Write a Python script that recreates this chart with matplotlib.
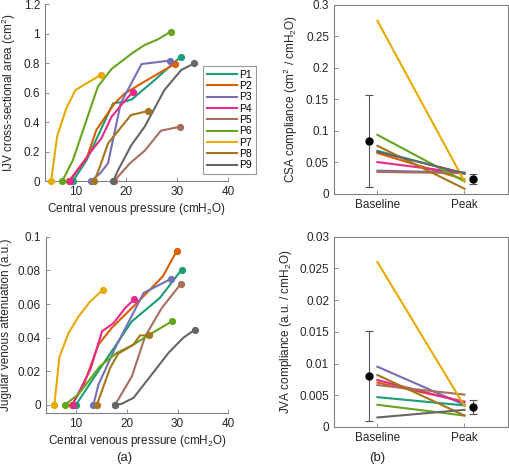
import matplotlib
matplotlib.use("Agg")
import matplotlib.pyplot as plt
import numpy as np

plt.rcParams["font.family"] = ["Liberation Sans", "DejaVu Sans"]
plt.rcParams["mathtext.default"] = "regular"
plt.rcParams["font.size"] = 8.5

names = ["P1", "P2", "P3", "P4", "P5", "P6", "P7", "P8", "P9"]
colors = ["#1b9e77", "#d95f02", "#7570b3", "#e7298a", "#a86e5c",
          "#66a61e", "#e6ab02", "#a6761d", "#666666"]

# (a) top: IJV cross-sectional area vs CVP
csa_x = [
    [9.5, 12.2, 17.4, 19.7, 21.1, 25.6, 30.7],
    [8.7, 12.2, 14.1, 17.7, 19.7, 23.0, 26.9, 29.5],
    [13.0, 14.8, 16.4, 18.9, 23.0, 28.5],
    [8.9, 12.5, 15.1, 17.1, 19.0, 21.3],
    [17.6, 20.7, 23.6, 26.8, 30.5],
    [7.4, 9.5, 14.4, 17.1, 21.3, 23.6, 26.2, 28.7],
    [5.2, 6.4, 8.2, 10.0, 15.0],
    [13.7, 14.8, 16.4, 20.9, 24.3],
    [17.4, 18.4, 21.0, 23.6, 27.5, 30.8, 33.4],
]
csa_y = [
    [0, 0.142, 0.527, 0.538, 0.554, 0.685, 0.843],
    [0, 0.155, 0.346, 0.527, 0.594, 0.662, 0.741, 0.793],
    [0, 0.05, 0.12, 0.527, 0.793, 0.816],
    [0, 0.176, 0.29, 0.436, 0.515, 0.605],
    [0, 0.12, 0.205, 0.341, 0.368],
    [0, 0.142, 0.64, 0.76, 0.87, 0.922, 0.96, 1.012],
    [0, 0.305, 0.493, 0.617, 0.72],
    [0, 0.097, 0.255, 0.447, 0.475],
    [0, 0.075, 0.244, 0.368, 0.617, 0.753, 0.798],
]

# (a) bottom: jugular venous attenuation vs CVP
jva_x = [
    [10.0, 13.7, 21.0, 26.5, 30.8],
    [9.15, 11.4, 14.4, 17.0, 22.3, 27.1, 29.8],
    [13.4, 14.4, 17.7, 23.3, 28.7],
    [9.3, 12.8, 15.1, 17.4, 19.7, 21.5],
    [17.7, 21.0, 23.6, 26.9, 30.7],
    [7.8, 10.4, 14.7, 18.0, 21.3, 24.6, 28.9],
    [5.7, 6.1, 6.7, 8.5, 10.5, 12.8, 15.3],
    [14.1, 16.7, 18.3, 21.3, 22.6, 24.4],
    [17.7, 18.9, 21.3, 23.6, 28.2, 31.1, 33.4],
]
jva_y = [
    [0, 0.017, 0.0497, 0.0636, 0.0805],
    [0, 0.011, 0.0358, 0.0457, 0.0616, 0.0765, 0.0915],
    [0, 0.0119, 0.0338, 0.0666, 0.075],
    [0, 0.0209, 0.0437, 0.0487, 0.0577, 0.063],
    [0, 0.0169, 0.0407, 0.0577, 0.0722],
    [0, 0.006, 0.0229, 0.0308, 0.0358, 0.042, 0.0497],
    [0, 0.011, 0.0284, 0.0427, 0.0527, 0.0616, 0.0686],
    [0, 0.0219, 0.0304, 0.0358, 0.0413, 0.0413],
    [0, 0.0004, 0.004, 0.0129, 0.0308, 0.0398, 0.0447],
]

# (b) compliance, baseline -> peak
csa_base = [0.0685, 0.065, 0.037, 0.0506, 0.035, 0.0938, 0.2747, 0.0764, 0.067]
csa_peak = [0.032, 0.023, 0.034, 0.033, 0.033, 0.020, 0.020, 0.0084, 0.033]
csa_mean = [0.0843, 0.024]
csa_err = [0.0735, 0.0085]

jva_base = [0.0047, 0.0070, 0.0095, 0.0074, 0.0066, 0.0035, 0.0260, 0.0082, 0.0015]
jva_peak = [0.0034, 0.0040, 0.0035, 0.0039, 0.0051, 0.0018, 0.0033, 0.0018, 0.0027]
jva_mean = [0.0081, 0.0032]
jva_err = [0.0071, 0.0011]

cond_labels = ["Baseline", "Peak"]

grey = "#262626"
spine_c = "#808080"

fig = plt.figure(figsize=(5.09, 4.67), dpi=100)
ax1 = fig.add_axes([0.0884, 0.6124, 0.3595, 0.379])
ax2 = fig.add_axes([0.0898, 0.1156, 0.3587, 0.377])
ax3 = fig.add_axes([0.656, 0.5846, 0.342, 0.405])
ax4 = fig.add_axes([0.656, 0.0857, 0.342, 0.4075])


def style(ax, box):
    for s in ax.spines.values():
        s.set_color(spine_c)
        s.set_linewidth(0.8)
    if not box:
        ax.spines["top"].set_visible(False)
        ax.spines["right"].set_visible(False)
    ax.tick_params(direction="in", colors=grey, labelcolor=grey, length=3,
                   width=0.6, labelsize=8.5)
    ax.tick_params(axis="both", which="both", color=spine_c)


for ax, xs, ys in [(ax1, csa_x, csa_y), (ax2, jva_x, jva_y)]:
    for i in range(len(names)):
        ax.plot(xs[i], ys[i], color=colors[i], lw=1.5, label=names[i])
        ax.plot([xs[i][0], xs[i][-1]], [ys[i][0], ys[i][-1]], "o",
                color=colors[i], ms=4.2, clip_on=False, zorder=5)
    ax.set_xlim(4, 40)
    ax.set_xticks([10, 20, 30, 40])
    ax.set_xlabel("Central venous pressure (cmH$_2$O)", color=grey, labelpad=2)
    style(ax, False)

ax1.set_ylim(0, 1.2)
ax1.set_yticks([0, 0.2, 0.4, 0.6, 0.8, 1, 1.2])
ax1.set_yticklabels(["0", "0.2", "0.4", "0.6", "0.8", "1", "1.2"])
ax1.set_ylabel("IJV cross-sectional area (cm$^2$)", color=grey, labelpad=4)

ax2.set_ylim(-0.005, 0.1)
ax2.set_yticks([0, 0.02, 0.04, 0.06, 0.08, 0.1])
ax2.set_yticklabels(["0", "0.02", "0.04", "0.06", "0.08", "0.1"])
ax2.set_ylabel("Jugular venous attenuation (a.u.)", color=grey, labelpad=4)

leg = ax1.legend(loc="upper left", bbox_to_anchor=(0.863, 0.65), borderaxespad=0,
                 fontsize=7.5, handlelength=2.9, handletextpad=0.25,
                 labelspacing=0.13, borderpad=0.35, frameon=True, fancybox=False)
leg.get_frame().set_edgecolor(spine_c)
leg.get_frame().set_linewidth(0.8)
leg.set_zorder(10)

for ax, base, peak, mean, err in [(ax3, csa_base, csa_peak, csa_mean, csa_err),
                                  (ax4, jva_base, jva_peak, jva_mean, jva_err)]:
    for i in range(len(names)):
        ax.plot([1, 2], [base[i], peak[i]], color=colors[i], lw=1.5)
    ax.errorbar([0.9, 2.1], mean, yerr=err, fmt="o", color="black", ms=5,
                ecolor="#555555", elinewidth=0.8, capsize=3, capthick=0.8, zorder=6)
    ax.set_xlim(0.5, 2.5)
    ax.set_xticks([1, 2])
    ax.set_xticklabels(cond_labels)
    style(ax, True)

ax3.set_ylim(0, 0.3)
ax3.set_yticks([0, 0.05, 0.1, 0.15, 0.2, 0.25, 0.3])
ax3.set_yticklabels(["0", "0.05", "0.1", "0.15", "0.2", "0.25", "0.3"])
ax3.set_ylabel("CSA compliance (cm$^2$ / cmH$_2$O)", color=grey, labelpad=4)

ax4.set_ylim(0, 0.03)
ax4.set_yticks([0, 0.005, 0.01, 0.015, 0.02, 0.025, 0.03])
ax4.set_yticklabels(["0", "0.005", "0.01", "0.015", "0.02", "0.025", "0.03"])
ax4.set_ylabel("JVA compliance (a.u. / cmH$_2$O)", color=grey, labelpad=4)

fig.text(124 / 509, 1 - 458 / 467, "(a)", ha="center", va="center", fontsize=9.5, color=grey)
fig.text(377 / 509, 1 - 458 / 467, "(b)", ha="center", va="center", fontsize=9.5, color=grey)

fig.savefig("out.png", dpi=100)
